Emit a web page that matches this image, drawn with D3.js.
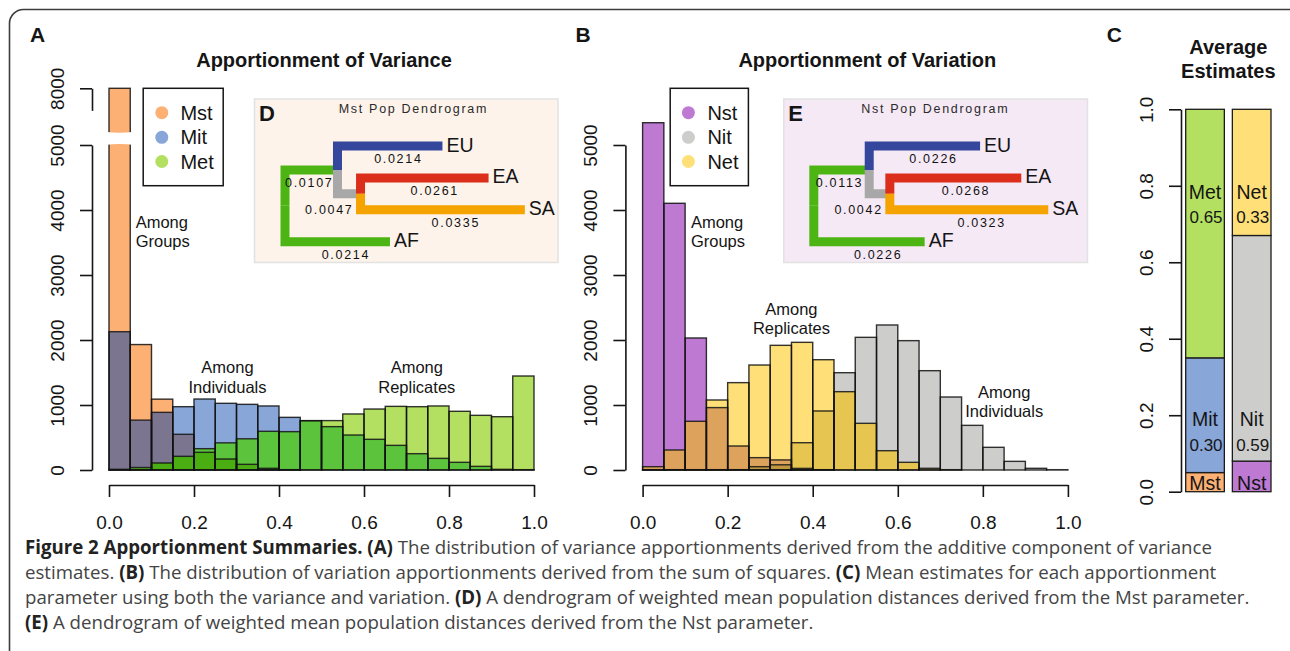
<!DOCTYPE html>
<html>
<head>
<meta charset="utf-8">
<script src="https://cdn.jsdelivr.net/npm/d3@7"></script>
<style>
  body { margin: 0; background: #fff; }
  svg text { font-family: "Liberation Sans", Arial, Helvetica, sans-serif; }
  svg text.caption { font-family: "Open Sans", "Noto Sans", sans-serif; }
</style>
</head>
<body>
<svg id="fig" width="1290" height="651"></svg>
<script>
// ---------------- data ----------------
// histogram bins (left edges), width 0.05
const binStarts = [0.00, 0.05, 0.10, 0.15, 0.20, 0.25, 0.30, 0.35, 0.40, 0.45,
                   0.50, 0.55, 0.60, 0.65, 0.70, 0.75, 0.80, 0.85, 0.90, 0.95];
const binWidth = 0.05;

// variance apportionments (counts per bin)
const mstCounts = [8000, 1930, 1090, 549, 272, 169, 87, 26, 5, 0, 0, 0, 0, 0, 0, 0, 0, 0, 0, 0];
const mitCounts = [2128, 767, 887, 974, 1092, 1026, 1010, 985, 810, 760, 667, 538, 472, 379, 251, 179, 118, 56, 10, 5];
const metCounts = [10, 38, 108, 210, 328, 418, 480, 595, 590, 758, 760, 862, 938, 979, 974, 985, 903, 841, 820, 1446];

// variation apportionments (counts per bin)
const nstCounts = [5343, 4103, 2031, 960, 369, 190, 155, 25, 5, 0, 0, 0, 0, 0, 0, 0, 0, 0, 0, 0];
const nitCounts = [5, 5, 5, 5, 5, 51, 80, 420, 908, 1497, 2041, 2231, 1990, 1528, 1123, 687, 349, 133, 26, 5];
const netCounts = [51, 308, 749, 1077, 1344, 1615, 1918, 1964, 1697, 1205, 718, 297, 118, 26, 5, 0, 0, 0, 0, 0];

const varianceNames = ["Mst", "Mit", "Met"];
const variationNames = ["Nst", "Nit", "Net"];

// axis ticks
const xTicks = [0, 0.2, 0.4, 0.6, 0.8, 1.0];
const yTicksLow = [0, 1000, 2000, 3000, 4000, 5000];
const yTicksHigh = [8000];
const cTicks = [0, 0.2, 0.4, 0.6, 0.8, 1.0];

// average estimates
const meanBars = ["variance", "variation"];
const varianceMeans = [0.05, 0.30, 0.65];
const variationMeans = [0.08, 0.59, 0.33];

// population dendrograms
const nodeIds = ["root", "n1", "AF", "EU", "n2", "EA", "SA"];
const nodeParents = [null, "root", "root", "n1", "n1", "n2", "n2"];
const mstBranchLengths = [0, 0.0107, 0.0214, 0.0214, 0.0047, 0.0261, 0.0335];
const nstBranchLengths = [0, 0.0113, 0.0226, 0.0226, 0.0042, 0.0268, 0.0323];
const leafOrder = ["EU", "EA", "SA", "AF"];

// ---------------- styles ----------------
const INK = "#151515";
const colorsA = { "0": "#fdb073", "1": "#88a6d8", "2": "#b3e061",
                  "0,1": "#7b7590", "1,2": "#5cc33c", "0,2": "#a8c64c", "0,1,2": "#4aad12" };
const colorsB = { "0": "#be79d3", "1": "#cdcdcc", "2": "#fedf78",
                  "0,1": "#a185b3", "0,2": "#dda35c", "1,2": "#e6c651", "0,1,2": "#c0963f" };
const branchColors = { n1: "#4db513", AF: "#4db513", EU: "#35479c", n2: "#a9a8a8", EA: "#db2e1b", SA: "#f5a300" };

const svg = d3.select("#fig");

// outer frame
svg.append("rect").attr("x", 9.5).attr("y", 9.5).attr("width", 1400).attr("height", 800)
  .attr("rx", 14).attr("fill", "none").attr("stroke", "#3c3c3c").attr("stroke-width", 1.6);

function panelLetter(x, y, t) {
  svg.append("text").attr("x", x).attr("y", y).attr("font-size", 21).attr("font-weight", "bold")
    .attr("fill", INK).text(t);
}
function title(x, y, t) {
  svg.append("text").attr("x", x).attr("y", y).attr("text-anchor", "middle").attr("font-size", 20)
    .attr("font-weight", "bold").attr("fill", INK).text(t);
}

// ---------------- overlaid histograms ----------------
function drawHist(x, y, series, colors) {
  const g = svg.append("g");
  binStarts.forEach((b0, i) => {
    const vals = series.map(s => s[i]);
    const order = [0, 1, 2].sort((a, b) => vals[a] - vals[b]);
    const levels = [0, vals[order[0]], vals[order[1]], vals[order[2]]];
    const covers = [order.slice(0), order.slice(1), order.slice(2)];
    for (let k = 0; k < 3; k++) {
      if (levels[k + 1] <= levels[k]) continue;
      const key = covers[k].slice().sort().join(",");
      g.append("rect")
        .attr("x", x(b0)).attr("width", x(b0 + binWidth) - x(b0))
        .attr("y", y(levels[k + 1])).attr("height", y(levels[k]) - y(levels[k + 1]))
        .attr("fill", colors[key]);
    }
  });
  series.forEach(s => {
    g.selectAll(null).data(s).enter().append("rect")
      .attr("x", (d, i) => x(binStarts[i])).attr("width", x(binWidth) - x(0))
      .attr("y", d => y(d)).attr("height", d => y(0) - y(d))
      .attr("fill", "none").attr("stroke", "#111").attr("stroke-opacity", 0.85).attr("stroke-width", 1.4);
  });
  return g;
}

function styleAxis(g) {
  g.select(".domain").attr("stroke", INK).attr("stroke-width", 1.6);
  g.selectAll(".tick line").attr("stroke", INK).attr("stroke-width", 1.6);
  g.selectAll(".tick text").attr("fill", INK).attr("font-size", 19)
    .attr("font-family", "'Liberation Sans', Arial, sans-serif");
}
function yAxisAt(xPos, scale, ticks, fmt) {
  const g = svg.append("g").attr("transform", `translate(${xPos},0)`)
    .call(d3.axisLeft(scale).tickValues(ticks).tickSize(12).tickSizeOuter(0).tickFormat(fmt));
  styleAxis(g);
  g.selectAll(".tick text").attr("transform", "rotate(-90)").attr("x", 0).attr("y", -35)
    .attr("dy", "0.36em").attr("text-anchor", "middle");
  return g;
}
function xAxisAt(yPos, scale) {
  const g = svg.append("g").attr("transform", `translate(0,${yPos})`)
    .call(d3.axisBottom(scale).tickValues(xTicks).tickSize(12).tickSizeOuter(0).tickFormat(d3.format(".1f")));
  styleAxis(g);
  g.selectAll(".tick text").attr("y", 44).attr("dy", 0);
  return g;
}
function legend(x0, x1, y0, y1, names, colors, dotX, textX) {
  svg.append("rect").attr("x", x0).attr("y", y0).attr("width", x1 - x0).attr("height", y1 - y0)
    .attr("fill", "#fff").attr("stroke", INK).attr("stroke-width", 1.5);
  const ys = [112.7, 137.3, 161.5];
  names.forEach((n, i) => {
    svg.append("circle").attr("cx", dotX).attr("cy", ys[i]).attr("r", 6.5).attr("fill", colors[String(i)]);
    svg.append("text").attr("x", textX).attr("y", ys[i] + 7).attr("font-size", 20).attr("fill", INK).text(n);
  });
}
function note(x, y, lines, anchor) {
  const t = svg.append("text").attr("font-size", 16.5).attr("fill", INK).attr("text-anchor", anchor);
  lines.forEach((l, i) => t.append("tspan").attr("x", x).attr("y", y + i * 19.3).text(l));
}

// ---- Panel A: variance ----
panelLetter(30, 41.7, "A");
title(324, 66.7, "Apportionment of Variance");
const xA = d3.scaleLinear().domain([0, 1]).range([109, 534]);
const yA = d3.scaleLinear().domain([0, 5000, 7332, 8000]).range([470, 145, 131.7, 88.3]);
drawHist(xA, yA, [mstCounts, mitCounts, metCounts], colorsA);
// axis break across the tall first bar
svg.append("path")
  .attr("d", `M${xA(0) - 4},${yA(7332)} Q${(xA(0) + xA(binWidth)) / 2},${yA(7332) + 2} ${xA(binWidth) + 4},${yA(7332)}
              L${xA(binWidth) + 4},${yA(5000)} Q${(xA(0) + xA(binWidth)) / 2},${yA(5000) - 2} ${xA(0) - 4},${yA(5000)} Z`)
  .attr("fill", "#fff");
yAxisAt(92, d3.scaleLinear().domain([0, 5000]).range([yA(0), yA(5000)]), yTicksLow, d3.format("d"));
yAxisAt(92, d3.scaleLinear().domain([7660, 8000]).range([yA(7660), yA(8000)]), yTicksHigh, d3.format("d"));
xAxisAt(485, xA);
legend(143.2, 223.2, 88.3, 185.7, varianceNames, colorsA, 161.8, 180.4);
note(135.7, 227.7, ["Among", "Groups"], "start");
note(227.5, 373.3, ["Among", "Individuals"], "middle");
note(416.8, 373.3, ["Among", "Replicates"], "middle");

// ---- Panel B: variation ----
panelLetter(575.5, 41.7, "B");
title(867.3, 66.7, "Apportionment of Variation");
const xB = d3.scaleLinear().domain([0, 1]).range([642.6, 1067.9]);
const yB = d3.scaleLinear().domain([0, 5000]).range([470, 145]);
drawHist(xB, yB, [nstCounts, nitCounts, netCounts], colorsB);
yAxisAt(625.4, yB, yTicksLow, d3.format("d"));
xAxisAt(485, xB);
legend(670.2, 748.4, 88.3, 185.7, variationNames, colorsB, 688.4, 707.4);
note(690.9, 227.7, ["Among", "Groups"], "start");
note(791.4, 315, ["Among", "Replicates"], "middle");
note(1004.2, 397.7, ["Among", "Individuals"], "middle");

// ---- Panels D / E: dendrograms ----
function dendrogram(box, fill, letter, label, titleX, rootX, lengths) {
  svg.append("rect").attr("x", box[0]).attr("y", box[1]).attr("width", box[2] - box[0]).attr("height", box[3] - box[1])
    .attr("fill", fill).attr("stroke", "#e2e2e2").attr("stroke-width", 1.5);
  svg.append("text").attr("x", box[0] + 4.5).attr("y", 121).attr("font-size", 22).attr("font-weight", "bold")
    .attr("fill", INK).text(letter);
  svg.append("text").attr("x", titleX).attr("y", 112.5).attr("text-anchor", "middle").attr("font-size", 12.5)
    .attr("letter-spacing", 1.7).attr("fill", "#2a2a2a").text(label);

  const rows = nodeIds.map((id, i) => ({ id, parent: nodeParents[i], len: lengths[i] }));
  const root = d3.stratify().id(d => d.id).parentId(d => d.parent)(rows);
  const x = d3.scaleLinear().domain([0, 0.05]).range([rootX, rootX + 0.05 * 4905]);
  const yLeaf = d3.scalePoint().domain(leafOrder).range([146, 241.7]);
  root.eachBefore(n => { n.dist = n.parent ? n.parent.dist + n.data.len : 0; });
  root.eachAfter(n => { n.yy = n.children ? d3.mean(n.children, c => c.yy) : yLeaf(n.id); });

  const g = svg.append("g");
  const edges = nodeIds.slice(1).map(id => root.find(n => n.id === id));
  edges.forEach(n => {
    const px = x(n.parent.dist), py = n.parent.yy, cx = x(n.dist), cy = n.yy;
    g.append("path").attr("d", `M${px},${py} V${cy} H${cx}`)
      .attr("fill", "none").attr("stroke", branchColors[n.id]).attr("stroke-width", 9)
      .attr("stroke-linejoin", "miter").attr("stroke-linecap", "butt");
  });
  edges.forEach(n => {
    const px = x(n.parent.dist), cx = x(n.dist), cy = n.yy, len = cx - px;
    let lx, anchor = "middle", ly = cy + 17;
    if (len < 30) { lx = cx - 7; anchor = "end"; ly = cy + 20; }
    else if (len < 80) { lx = (px + cx) / 2 - 2; }
    else { lx = px + 0.58 * len; }
    g.append("text").attr("x", lx).attr("y", ly).attr("text-anchor", anchor).attr("font-size", 12.5)
      .attr("letter-spacing", 1.7).attr("fill", "#111").text(d3.format(".4f")(n.data.len));
    if (!n.children) {
      g.append("text").attr("x", cx + 4).attr("y", cy + 5.5).attr("font-size", 19.5)
        .attr("fill", INK).text(n.id);
    }
  });
}
dendrogram([254.5, 99, 558, 262.5], "#fdf3ea", "D", "Mst Pop Dendrogram", 413.4, 285, mstBranchLengths);
dendrogram([783.8, 99, 1087.5, 262.5], "#f6e9f6", "E", "Nst Pop Dendrogram", 935.3, 813.8, nstBranchLengths);

// ---- Panel C: average estimates ----
panelLetter(1106.7, 41.7, "C");
svg.append("text").attr("x", 1228.3).attr("text-anchor", "middle").attr("font-size", 20).attr("font-weight", "bold")
  .attr("fill", INK).selectAll("tspan").data(["Average", "Estimates"]).enter().append("tspan")
  .attr("x", 1228.3).attr("y", (d, i) => 54 + i * 24).text(d => d);
const yC = d3.scaleLinear().domain([0, 1]).range([491.7, 109.3]);
const xC = d3.scaleBand().domain(meanBars).range([1181.5, 1275.2]).paddingInner(0.1717).paddingOuter(0.09);
const stacks = [
  { bar: "variance", names: varianceNames, vals: varianceMeans, colors: colorsA },
  { bar: "variation", names: variationNames, vals: variationMeans, colors: colorsB }
];
const labelAt = [[0.022], [0.19, 0.122], [0.784, 0.719]];
stacks.forEach(s => {
  let acc = 0;
  s.vals.forEach((v, i) => {
    svg.append("rect").attr("x", xC(s.bar)).attr("width", xC.bandwidth())
      .attr("y", yC(acc + v)).attr("height", yC(acc) - yC(acc + v))
      .attr("fill", s.colors[String(i)]).attr("stroke", "#1c1c1c").attr("stroke-width", 1.3);
    acc += v;
  });
  const cx = xC(s.bar) + xC.bandwidth() / 2;
  s.names.forEach((n, i) => {
    svg.append("text").attr("x", cx).attr("y", yC(labelAt[i][0])).attr("dy", "0.36em")
      .attr("text-anchor", "middle").attr("font-size", 19.5).attr("fill", INK).text(n);
    if (i > 0) {
      svg.append("text").attr("x", cx + 1).attr("y", yC(labelAt[i][1])).attr("dy", "0.36em")
        .attr("text-anchor", "middle").attr("font-size", 17).attr("fill", INK).text(d3.format(".2f")(s.vals[i]));
    }
  });
});
yAxisAt(1181, yC, cTicks, d3.format(".1f"));

// ---- caption ----
const captionLines = [
  [["Figure 2 Apportionment Summaries. ", true], ["(A)", true], [" The distribution of variance apportionments derived from the additive component of variance", false]],
  [["estimates. ", false], ["(B)", true], [" The distribution of variation apportionments derived from the sum of squares. ", false], ["(C)", true], [" Mean estimates for each apportionment", false]],
  [["parameter using both the variance and variation. ", false], ["(D)", true], [" A dendrogram of weighted mean population distances derived from the Mst parameter.", false]],
  [["(E)", true], [" A dendrogram of weighted mean population distances derived from the Nst parameter.", false]]
];
const captionTexts = captionLines.map((line, li) => {
  const t = svg.append("text").attr("class", "caption").attr("x", 25).attr("y", 553.5 + li * 25)
    .attr("font-size", 17).attr("fill", "#3d3d3d").style("white-space", "pre");
  line.forEach(([txt, bold]) => {
    t.append("tspan").attr("font-weight", bold ? "bold" : "normal").attr("fill", bold ? "#222" : "#444")
      .text(txt);
  });
  return t;
});
// size the caption so that its first line spans the figure width
const firstWidth = captionTexts[0].node().getComputedTextLength();
if (firstWidth > 0) {
  const fs = 17 * 1188 / firstWidth;
  captionTexts.forEach(t => t.attr("font-size", fs));
}
</script>
</body>
</html>
